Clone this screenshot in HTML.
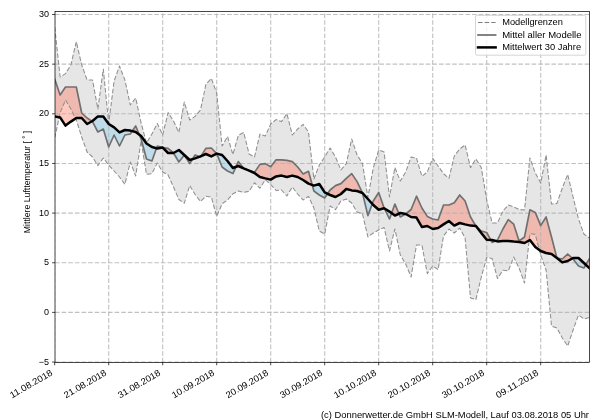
<!DOCTYPE html>
<html><head><meta charset="utf-8"><title>chart</title>
<style>
html,body{margin:0;padding:0;background:#fff;}
body{width:600px;height:420px;overflow:hidden;font-family:"Liberation Sans",sans-serif;}
svg{display:block;}
svg text{font-family:"Liberation Sans",sans-serif;fill:#000;}
</style></head><body>
<svg width="600" height="420" viewBox="0 0 600 420">
<rect x="0" y="0" width="600" height="420" fill="#ffffff"/>
<defs><clipPath id="ax"><rect x="55.00" y="11.50" width="534.50" height="350.90"/></clipPath><filter id="g" x="-5%" y="-5%" width="110%" height="110%" color-interpolation-filters="sRGB"><feColorMatrix type="matrix" values="1 0 0 0 0 0 1 0 0 0 0 0 1 0 0 0 0 0 1 0"/></filter></defs>
<g clip-path="url(#ax)">
<polygon points="54.70,27.00 60.10,77.00 65.50,73.60 70.90,65.00 76.30,41.60 81.70,65.00 87.10,80.00 92.50,80.00 97.90,109.00 103.30,69.00 108.70,123.50 114.10,81.00 119.50,66.00 124.90,80.00 130.30,105.00 135.70,98.00 141.10,123.00 146.50,143.00 151.90,134.00 157.30,123.50 162.70,135.00 168.10,112.50 173.50,121.00 178.90,132.50 184.30,102.00 189.70,120.00 195.10,116.40 200.50,110.00 205.90,84.40 211.30,78.40 216.70,93.00 222.10,146.00 227.50,136.40 232.90,154.50 238.30,135.50 243.70,132.40 249.10,154.00 254.50,157.00 259.90,134.00 265.30,136.00 270.70,124.00 276.10,119.60 281.50,121.60 286.90,113.60 292.30,135.00 297.70,129.00 303.10,124.40 308.50,132.00 313.90,179.00 319.30,165.00 324.70,157.00 330.10,148.00 335.50,157.00 340.90,170.00 346.30,163.60 351.70,139.00 357.10,155.00 362.50,163.60 367.90,197.50 373.30,168.00 378.70,150.00 384.10,152.00 389.50,197.00 394.90,167.60 400.30,181.00 405.70,172.00 411.10,157.00 416.50,158.00 421.90,176.40 427.30,172.00 432.70,158.40 438.10,166.00 443.50,173.60 448.90,178.40 454.30,156.00 459.70,149.00 465.10,145.00 470.50,167.60 475.90,159.00 481.30,167.50 486.70,200.00 492.10,223.00 497.50,223.00 502.90,211.00 508.30,205.00 513.70,207.00 519.10,209.50 524.50,210.00 529.90,158.00 535.30,173.00 540.70,183.00 546.10,155.00 551.50,204.00 556.90,203.50 562.30,188.00 567.70,174.40 573.10,197.00 578.50,219.00 583.90,234.00 589.30,238.00 589.30,317.60 583.90,319.00 578.50,315.00 573.10,330.00 567.70,346.00 562.30,338.00 556.90,328.00 551.50,326.00 546.10,270.00 540.70,255.00 535.30,234.40 529.90,233.60 524.50,283.00 519.10,268.00 513.70,257.00 508.30,271.00 502.90,270.20 497.50,278.50 492.10,258.50 486.70,257.50 481.30,277.00 475.90,299.60 470.50,298.00 465.10,238.00 459.70,228.00 454.30,233.00 448.90,229.00 443.50,236.00 438.10,269.60 432.70,266.00 427.30,273.60 421.90,245.00 416.50,245.00 411.10,277.00 405.70,264.00 400.30,255.00 394.90,229.00 389.50,251.00 384.10,227.50 378.70,230.00 373.30,233.00 367.90,237.00 362.50,214.00 357.10,212.00 351.70,203.00 346.30,199.00 340.90,201.00 335.50,209.60 330.10,206.00 324.70,234.00 319.30,231.00 313.90,208.00 308.50,196.40 303.10,200.00 297.70,194.00 292.30,187.00 286.90,196.00 281.50,190.00 276.10,190.50 270.70,184.50 265.30,179.80 259.90,188.20 254.50,182.70 249.10,191.30 243.70,192.40 238.30,191.00 232.90,193.80 227.50,200.00 222.10,203.80 216.70,216.40 211.30,197.00 205.90,196.30 200.50,201.50 195.10,194.50 189.70,185.50 184.30,203.30 178.90,199.50 173.50,187.00 168.10,175.00 162.70,172.00 157.30,163.00 151.90,173.60 146.50,174.40 141.10,141.00 135.70,176.00 130.30,162.00 124.90,184.40 119.50,177.00 114.10,171.00 108.70,165.00 103.30,158.00 97.90,165.60 92.50,157.00 87.10,152.00 81.70,137.00 76.30,120.00 70.90,109.00 65.50,100.00 60.10,113.00 54.70,138.00" fill="#808080" fill-opacity="0.2"/>
<polygon points="54.70,79.00 60.10,95.00 60.10,117.40 54.70,116.40" fill="#ff6347" fill-opacity="0.35"/>
<polygon points="60.10,95.00 65.50,87.00 65.50,125.60 60.10,117.40" fill="#ff6347" fill-opacity="0.35"/>
<polygon points="65.50,87.00 70.90,87.00 70.90,121.60 65.50,125.60" fill="#ff6347" fill-opacity="0.35"/>
<polygon points="70.90,87.00 76.30,87.00 76.30,118.00 70.90,121.60" fill="#ff6347" fill-opacity="0.35"/>
<polygon points="76.30,87.00 81.70,113.00 81.70,118.00 76.30,118.00" fill="#ff6347" fill-opacity="0.35"/>
<polygon points="81.70,113.00 87.10,118.00 87.10,124.00 81.70,118.00" fill="#ff6347" fill-opacity="0.35"/>
<polygon points="87.10,118.00 92.01,121.27 87.10,124.00" fill="#ff6347" fill-opacity="0.35"/>
<polygon points="132.25,131.11 135.70,126.00 135.70,132.00" fill="#ff6347" fill-opacity="0.35"/>
<polygon points="135.70,126.00 139.30,134.67 135.70,132.00" fill="#ff6347" fill-opacity="0.35"/>
<polygon points="156.48,148.27 157.30,146.00 157.30,148.50" fill="#ff6347" fill-opacity="0.35"/>
<polygon points="157.30,146.00 162.70,147.60 162.70,147.60 157.30,148.50" fill="#ff6347" fill-opacity="0.35"/>
<polygon points="162.70,147.60 168.10,148.40 168.10,153.00 162.70,147.60" fill="#ff6347" fill-opacity="0.35"/>
<polygon points="168.10,148.40 173.50,153.00 173.50,153.00 168.10,153.00" fill="#ff6347" fill-opacity="0.35"/>
<polygon points="192.48,159.18 195.10,155.00 195.10,158.40" fill="#ff6347" fill-opacity="0.35"/>
<polygon points="195.10,155.00 199.69,156.70 195.10,158.40" fill="#ff6347" fill-opacity="0.35"/>
<polygon points="201.02,156.17 205.90,148.40 205.90,154.00" fill="#ff6347" fill-opacity="0.35"/>
<polygon points="205.90,148.40 211.30,148.00 211.30,156.40 205.90,154.00" fill="#ff6347" fill-opacity="0.35"/>
<polygon points="211.30,148.00 216.70,153.60 216.70,153.60 211.30,156.40" fill="#ff6347" fill-opacity="0.35"/>
<polygon points="235.92,166.88 238.30,161.60 238.30,166.00" fill="#ff6347" fill-opacity="0.35"/>
<polygon points="238.30,161.60 243.70,168.40 243.70,168.40 238.30,166.00" fill="#ff6347" fill-opacity="0.35"/>
<polygon points="249.10,170.60 254.50,172.40 254.50,173.00 249.10,170.60" fill="#ff6347" fill-opacity="0.35"/>
<polygon points="254.50,172.40 259.90,164.40 259.90,177.00 254.50,173.00" fill="#ff6347" fill-opacity="0.35"/>
<polygon points="259.90,164.40 265.30,163.60 265.30,178.40 259.90,177.00" fill="#ff6347" fill-opacity="0.35"/>
<polygon points="265.30,163.60 270.70,166.70 270.70,179.60 265.30,178.40" fill="#ff6347" fill-opacity="0.35"/>
<polygon points="270.70,166.70 276.10,159.80 276.10,176.40 270.70,179.60" fill="#ff6347" fill-opacity="0.35"/>
<polygon points="276.10,159.80 281.50,159.80 281.50,175.60 276.10,176.40" fill="#ff6347" fill-opacity="0.35"/>
<polygon points="281.50,159.80 286.90,160.40 286.90,177.00 281.50,175.60" fill="#ff6347" fill-opacity="0.35"/>
<polygon points="286.90,160.40 292.30,161.60 292.30,175.60 286.90,177.00" fill="#ff6347" fill-opacity="0.35"/>
<polygon points="292.30,161.60 297.70,167.00 297.70,177.00 292.30,175.60" fill="#ff6347" fill-opacity="0.35"/>
<polygon points="297.70,167.00 303.10,174.00 303.10,180.00 297.70,177.00" fill="#ff6347" fill-opacity="0.35"/>
<polygon points="303.10,174.00 308.50,171.30 308.50,183.60 303.10,180.00" fill="#ff6347" fill-opacity="0.35"/>
<polygon points="308.50,171.30 312.25,184.99 308.50,183.60" fill="#ff6347" fill-opacity="0.35"/>
<polygon points="327.55,193.77 330.10,190.00 330.10,195.00" fill="#ff6347" fill-opacity="0.35"/>
<polygon points="330.10,190.00 335.50,185.60 335.50,197.00 330.10,195.00" fill="#ff6347" fill-opacity="0.35"/>
<polygon points="335.50,185.60 340.90,183.60 340.90,194.00 335.50,197.00" fill="#ff6347" fill-opacity="0.35"/>
<polygon points="340.90,183.60 346.30,178.40 346.30,189.00 340.90,194.00" fill="#ff6347" fill-opacity="0.35"/>
<polygon points="346.30,178.40 351.70,173.60 351.70,190.40 346.30,189.00" fill="#ff6347" fill-opacity="0.35"/>
<polygon points="351.70,173.60 357.10,181.60 357.10,191.00 351.70,190.40" fill="#ff6347" fill-opacity="0.35"/>
<polygon points="357.10,181.60 362.50,193.00 362.50,193.00 357.10,191.00" fill="#ff6347" fill-opacity="0.35"/>
<polygon points="372.25,203.83 373.30,201.00 373.30,205.00" fill="#ff6347" fill-opacity="0.35"/>
<polygon points="373.30,201.00 378.70,192.50 378.70,209.80 373.30,205.00" fill="#ff6347" fill-opacity="0.35"/>
<polygon points="378.70,192.50 384.10,208.00 384.10,208.20 378.70,209.80" fill="#ff6347" fill-opacity="0.35"/>
<polygon points="384.10,208.00 384.24,208.29 384.10,208.20" fill="#ff6347" fill-opacity="0.35"/>
<polygon points="391.60,213.16 394.90,204.00 394.90,215.60" fill="#ff6347" fill-opacity="0.35"/>
<polygon points="394.90,204.00 398.92,213.67 394.90,215.60" fill="#ff6347" fill-opacity="0.35"/>
<polygon points="405.70,214.00 411.10,209.50 411.10,217.00 405.70,214.00" fill="#ff6347" fill-opacity="0.35"/>
<polygon points="411.10,209.50 416.50,196.20 416.50,217.60 411.10,217.00" fill="#ff6347" fill-opacity="0.35"/>
<polygon points="416.50,196.20 421.90,208.00 421.90,227.00 416.50,217.60" fill="#ff6347" fill-opacity="0.35"/>
<polygon points="421.90,208.00 427.30,216.40 427.30,226.00 421.90,227.00" fill="#ff6347" fill-opacity="0.35"/>
<polygon points="427.30,216.40 432.70,219.00 432.70,229.00 427.30,226.00" fill="#ff6347" fill-opacity="0.35"/>
<polygon points="432.70,219.00 438.10,220.00 438.10,228.00 432.70,229.00" fill="#ff6347" fill-opacity="0.35"/>
<polygon points="438.10,220.00 443.50,205.00 443.50,224.40 438.10,228.00" fill="#ff6347" fill-opacity="0.35"/>
<polygon points="443.50,205.00 448.90,205.00 448.90,221.00 443.50,224.40" fill="#ff6347" fill-opacity="0.35"/>
<polygon points="448.90,205.00 454.30,202.70 454.30,225.60 448.90,221.00" fill="#ff6347" fill-opacity="0.35"/>
<polygon points="454.30,202.70 459.70,195.00 459.70,223.00 454.30,225.60" fill="#ff6347" fill-opacity="0.35"/>
<polygon points="459.70,195.00 465.10,201.00 465.10,224.40 459.70,223.00" fill="#ff6347" fill-opacity="0.35"/>
<polygon points="465.10,201.00 470.50,217.00 470.50,225.60 465.10,224.40" fill="#ff6347" fill-opacity="0.35"/>
<polygon points="470.50,217.00 475.90,226.00 475.90,226.00 470.50,225.60" fill="#ff6347" fill-opacity="0.35"/>
<polygon points="475.90,226.00 481.30,231.00 481.30,233.00 475.90,226.00" fill="#ff6347" fill-opacity="0.35"/>
<polygon points="481.30,231.00 486.70,232.50 486.70,239.80 481.30,233.00" fill="#ff6347" fill-opacity="0.35"/>
<polygon points="486.70,232.50 490.76,239.95 486.70,239.80" fill="#ff6347" fill-opacity="0.35"/>
<polygon points="495.51,240.88 497.50,240.00 497.50,241.40" fill="#ff6347" fill-opacity="0.35"/>
<polygon points="497.50,240.00 502.90,229.00 502.90,241.00 497.50,241.40" fill="#ff6347" fill-opacity="0.35"/>
<polygon points="502.90,229.00 508.30,219.60 508.30,241.00 502.90,241.00" fill="#ff6347" fill-opacity="0.35"/>
<polygon points="508.30,219.60 513.70,224.20 513.70,241.60 508.30,241.00" fill="#ff6347" fill-opacity="0.35"/>
<polygon points="513.70,224.20 519.10,241.00 519.10,242.00 513.70,241.60" fill="#ff6347" fill-opacity="0.35"/>
<polygon points="519.10,241.00 524.50,237.00 524.50,243.00 519.10,242.00" fill="#ff6347" fill-opacity="0.35"/>
<polygon points="524.50,237.00 529.90,209.80 529.90,240.00 524.50,243.00" fill="#ff6347" fill-opacity="0.35"/>
<polygon points="529.90,209.80 535.30,212.40 535.30,247.00 529.90,240.00" fill="#ff6347" fill-opacity="0.35"/>
<polygon points="535.30,212.40 540.70,225.60 540.70,251.00 535.30,247.00" fill="#ff6347" fill-opacity="0.35"/>
<polygon points="540.70,225.60 546.10,217.00 546.10,253.00 540.70,251.00" fill="#ff6347" fill-opacity="0.35"/>
<polygon points="546.10,217.00 551.50,237.00 551.50,254.00 546.10,253.00" fill="#ff6347" fill-opacity="0.35"/>
<polygon points="551.50,237.00 556.90,258.00 556.90,258.00 551.50,254.00" fill="#ff6347" fill-opacity="0.35"/>
<polygon points="556.90,258.00 562.30,259.00 562.30,262.40 556.90,258.00" fill="#ff6347" fill-opacity="0.35"/>
<polygon points="562.30,259.00 567.70,254.00 567.70,261.00 562.30,262.40" fill="#ff6347" fill-opacity="0.35"/>
<polygon points="567.70,254.00 572.43,258.38 567.70,261.00" fill="#ff6347" fill-opacity="0.35"/>
<polygon points="585.83,264.79 589.30,259.00 589.30,268.00" fill="#ff6347" fill-opacity="0.35"/>
<polygon points="92.01,121.27 92.50,121.60 92.50,121.00" fill="#96d2ee" fill-opacity="0.5"/>
<polygon points="92.50,121.60 97.90,132.00 97.90,116.40 92.50,121.00" fill="#96d2ee" fill-opacity="0.5"/>
<polygon points="97.90,132.00 103.30,129.00 103.30,116.60 97.90,116.40" fill="#96d2ee" fill-opacity="0.5"/>
<polygon points="103.30,129.00 108.70,147.00 108.70,124.00 103.30,116.60" fill="#96d2ee" fill-opacity="0.5"/>
<polygon points="108.70,147.00 114.10,135.00 114.10,127.40 108.70,124.00" fill="#96d2ee" fill-opacity="0.5"/>
<polygon points="114.10,135.00 119.50,146.00 119.50,132.40 114.10,127.40" fill="#96d2ee" fill-opacity="0.5"/>
<polygon points="119.50,146.00 124.90,135.00 124.90,130.00 119.50,132.40" fill="#96d2ee" fill-opacity="0.5"/>
<polygon points="124.90,135.00 130.30,134.00 130.30,130.60 124.90,130.00" fill="#96d2ee" fill-opacity="0.5"/>
<polygon points="130.30,134.00 132.25,131.11 130.30,130.60" fill="#96d2ee" fill-opacity="0.5"/>
<polygon points="139.30,134.67 141.10,139.00 141.10,136.00" fill="#96d2ee" fill-opacity="0.5"/>
<polygon points="141.10,139.00 146.50,159.00 146.50,143.50 141.10,136.00" fill="#96d2ee" fill-opacity="0.5"/>
<polygon points="146.50,159.00 151.90,161.00 151.90,147.00 146.50,143.50" fill="#96d2ee" fill-opacity="0.5"/>
<polygon points="151.90,161.00 156.48,148.27 151.90,147.00" fill="#96d2ee" fill-opacity="0.5"/>
<polygon points="173.50,153.00 178.90,162.00 178.90,150.00 173.50,153.00" fill="#96d2ee" fill-opacity="0.5"/>
<polygon points="178.90,162.00 184.30,155.00 184.30,155.00 178.90,150.00" fill="#96d2ee" fill-opacity="0.5"/>
<polygon points="184.30,155.00 189.70,163.60 189.70,160.00 184.30,155.00" fill="#96d2ee" fill-opacity="0.5"/>
<polygon points="189.70,163.60 192.48,159.18 189.70,160.00" fill="#96d2ee" fill-opacity="0.5"/>
<polygon points="199.69,156.70 200.50,157.00 200.50,156.40" fill="#96d2ee" fill-opacity="0.5"/>
<polygon points="200.50,157.00 201.02,156.17 200.50,156.40" fill="#96d2ee" fill-opacity="0.5"/>
<polygon points="216.70,153.60 222.10,167.00 222.10,155.00 216.70,153.60" fill="#96d2ee" fill-opacity="0.5"/>
<polygon points="222.10,167.00 227.50,171.00 227.50,161.00 222.10,155.00" fill="#96d2ee" fill-opacity="0.5"/>
<polygon points="227.50,171.00 232.90,173.60 232.90,168.00 227.50,161.00" fill="#96d2ee" fill-opacity="0.5"/>
<polygon points="232.90,173.60 235.92,166.88 232.90,168.00" fill="#96d2ee" fill-opacity="0.5"/>
<polygon points="312.25,184.99 313.90,191.00 313.90,185.60" fill="#96d2ee" fill-opacity="0.5"/>
<polygon points="313.90,191.00 319.30,195.00 319.30,184.00 313.90,185.60" fill="#96d2ee" fill-opacity="0.5"/>
<polygon points="319.30,195.00 324.70,198.00 324.70,192.40 319.30,184.00" fill="#96d2ee" fill-opacity="0.5"/>
<polygon points="324.70,198.00 327.55,193.77 324.70,192.40" fill="#96d2ee" fill-opacity="0.5"/>
<polygon points="362.50,193.00 367.90,215.60 367.90,199.00 362.50,193.00" fill="#96d2ee" fill-opacity="0.5"/>
<polygon points="367.90,215.60 372.25,203.83 367.90,199.00" fill="#96d2ee" fill-opacity="0.5"/>
<polygon points="384.24,208.29 389.50,219.00 389.50,211.60" fill="#96d2ee" fill-opacity="0.5"/>
<polygon points="389.50,219.00 391.60,213.16 389.50,211.60" fill="#96d2ee" fill-opacity="0.5"/>
<polygon points="398.92,213.67 400.30,217.00 400.30,213.00" fill="#96d2ee" fill-opacity="0.5"/>
<polygon points="400.30,217.00 405.70,214.00 405.70,214.00 400.30,213.00" fill="#96d2ee" fill-opacity="0.5"/>
<polygon points="490.76,239.95 492.10,242.40 492.10,240.00" fill="#96d2ee" fill-opacity="0.5"/>
<polygon points="492.10,242.40 495.51,240.88 492.10,240.00" fill="#96d2ee" fill-opacity="0.5"/>
<polygon points="572.43,258.38 573.10,259.00 573.10,258.00" fill="#96d2ee" fill-opacity="0.5"/>
<polygon points="573.10,259.00 578.50,266.00 578.50,258.00 573.10,258.00" fill="#96d2ee" fill-opacity="0.5"/>
<polygon points="578.50,266.00 583.90,268.00 583.90,263.00 578.50,258.00" fill="#96d2ee" fill-opacity="0.5"/>
<polygon points="583.90,268.00 585.83,264.79 583.90,263.00" fill="#96d2ee" fill-opacity="0.5"/>
<line x1="54.70" y1="362.40" x2="54.70" y2="11.50" stroke="#b0b0b0" stroke-opacity="0.8" stroke-width="1.1" stroke-dasharray="4.62 2" fill="none"/>
<line x1="108.70" y1="362.40" x2="108.70" y2="11.50" stroke="#b0b0b0" stroke-opacity="0.8" stroke-width="1.1" stroke-dasharray="4.62 2" fill="none"/>
<line x1="162.70" y1="362.40" x2="162.70" y2="11.50" stroke="#b0b0b0" stroke-opacity="0.8" stroke-width="1.1" stroke-dasharray="4.62 2" fill="none"/>
<line x1="216.70" y1="362.40" x2="216.70" y2="11.50" stroke="#b0b0b0" stroke-opacity="0.8" stroke-width="1.1" stroke-dasharray="4.62 2" fill="none"/>
<line x1="270.70" y1="362.40" x2="270.70" y2="11.50" stroke="#b0b0b0" stroke-opacity="0.8" stroke-width="1.1" stroke-dasharray="4.62 2" fill="none"/>
<line x1="324.70" y1="362.40" x2="324.70" y2="11.50" stroke="#b0b0b0" stroke-opacity="0.8" stroke-width="1.1" stroke-dasharray="4.62 2" fill="none"/>
<line x1="378.70" y1="362.40" x2="378.70" y2="11.50" stroke="#b0b0b0" stroke-opacity="0.8" stroke-width="1.1" stroke-dasharray="4.62 2" fill="none"/>
<line x1="432.70" y1="362.40" x2="432.70" y2="11.50" stroke="#b0b0b0" stroke-opacity="0.8" stroke-width="1.1" stroke-dasharray="4.62 2" fill="none"/>
<line x1="486.70" y1="362.40" x2="486.70" y2="11.50" stroke="#b0b0b0" stroke-opacity="0.8" stroke-width="1.1" stroke-dasharray="4.62 2" fill="none"/>
<line x1="540.70" y1="362.40" x2="540.70" y2="11.50" stroke="#b0b0b0" stroke-opacity="0.8" stroke-width="1.1" stroke-dasharray="4.62 2" fill="none"/>
<line x1="55.00" y1="362.05" x2="589.50" y2="362.05" stroke="#b0b0b0" stroke-opacity="0.8" stroke-width="1.1" stroke-dasharray="4.62 2" fill="none"/>
<line x1="55.00" y1="312.40" x2="589.50" y2="312.40" stroke="#b0b0b0" stroke-opacity="0.8" stroke-width="1.1" stroke-dasharray="4.62 2" fill="none"/>
<line x1="55.00" y1="262.75" x2="589.50" y2="262.75" stroke="#b0b0b0" stroke-opacity="0.8" stroke-width="1.1" stroke-dasharray="4.62 2" fill="none"/>
<line x1="55.00" y1="213.10" x2="589.50" y2="213.10" stroke="#b0b0b0" stroke-opacity="0.8" stroke-width="1.1" stroke-dasharray="4.62 2" fill="none"/>
<line x1="55.00" y1="163.45" x2="589.50" y2="163.45" stroke="#b0b0b0" stroke-opacity="0.8" stroke-width="1.1" stroke-dasharray="4.62 2" fill="none"/>
<line x1="55.00" y1="113.80" x2="589.50" y2="113.80" stroke="#b0b0b0" stroke-opacity="0.8" stroke-width="1.1" stroke-dasharray="4.62 2" fill="none"/>
<line x1="55.00" y1="64.15" x2="589.50" y2="64.15" stroke="#b0b0b0" stroke-opacity="0.8" stroke-width="1.1" stroke-dasharray="4.62 2" fill="none"/>
<line x1="55.00" y1="14.50" x2="589.50" y2="14.50" stroke="#b0b0b0" stroke-opacity="0.8" stroke-width="1.1" stroke-dasharray="4.62 2" fill="none"/>
<polyline points="54.70,27.00 60.10,77.00 65.50,73.60 70.90,65.00 76.30,41.60 81.70,65.00 87.10,80.00 92.50,80.00 97.90,109.00 103.30,69.00 108.70,123.50 114.10,81.00 119.50,66.00 124.90,80.00 130.30,105.00 135.70,98.00 141.10,123.00 146.50,143.00 151.90,134.00 157.30,123.50 162.70,135.00 168.10,112.50 173.50,121.00 178.90,132.50 184.30,102.00 189.70,120.00 195.10,116.40 200.50,110.00 205.90,84.40 211.30,78.40 216.70,93.00 222.10,146.00 227.50,136.40 232.90,154.50 238.30,135.50 243.70,132.40 249.10,154.00 254.50,157.00 259.90,134.00 265.30,136.00 270.70,124.00 276.10,119.60 281.50,121.60 286.90,113.60 292.30,135.00 297.70,129.00 303.10,124.40 308.50,132.00 313.90,179.00 319.30,165.00 324.70,157.00 330.10,148.00 335.50,157.00 340.90,170.00 346.30,163.60 351.70,139.00 357.10,155.00 362.50,163.60 367.90,197.50 373.30,168.00 378.70,150.00 384.10,152.00 389.50,197.00 394.90,167.60 400.30,181.00 405.70,172.00 411.10,157.00 416.50,158.00 421.90,176.40 427.30,172.00 432.70,158.40 438.10,166.00 443.50,173.60 448.90,178.40 454.30,156.00 459.70,149.00 465.10,145.00 470.50,167.60 475.90,159.00 481.30,167.50 486.70,200.00 492.10,223.00 497.50,223.00 502.90,211.00 508.30,205.00 513.70,207.00 519.10,209.50 524.50,210.00 529.90,158.00 535.30,173.00 540.70,183.00 546.10,155.00 551.50,204.00 556.90,203.50 562.30,188.00 567.70,174.40 573.10,197.00 578.50,219.00 583.90,234.00 589.30,238.00" stroke="#8f8f8f" stroke-width="1.05" stroke-dasharray="4.62 2" fill="none" stroke-linejoin="round"/>
<polyline points="54.70,138.00 60.10,113.00 65.50,100.00 70.90,109.00 76.30,120.00 81.70,137.00 87.10,152.00 92.50,157.00 97.90,165.60 103.30,158.00 108.70,165.00 114.10,171.00 119.50,177.00 124.90,184.40 130.30,162.00 135.70,176.00 141.10,141.00 146.50,174.40 151.90,173.60 157.30,163.00 162.70,172.00 168.10,175.00 173.50,187.00 178.90,199.50 184.30,203.30 189.70,185.50 195.10,194.50 200.50,201.50 205.90,196.30 211.30,197.00 216.70,216.40 222.10,203.80 227.50,200.00 232.90,193.80 238.30,191.00 243.70,192.40 249.10,191.30 254.50,182.70 259.90,188.20 265.30,179.80 270.70,184.50 276.10,190.50 281.50,190.00 286.90,196.00 292.30,187.00 297.70,194.00 303.10,200.00 308.50,196.40 313.90,208.00 319.30,231.00 324.70,234.00 330.10,206.00 335.50,209.60 340.90,201.00 346.30,199.00 351.70,203.00 357.10,212.00 362.50,214.00 367.90,237.00 373.30,233.00 378.70,230.00 384.10,227.50 389.50,251.00 394.90,229.00 400.30,255.00 405.70,264.00 411.10,277.00 416.50,245.00 421.90,245.00 427.30,273.60 432.70,266.00 438.10,269.60 443.50,236.00 448.90,229.00 454.30,233.00 459.70,228.00 465.10,238.00 470.50,298.00 475.90,299.60 481.30,277.00 486.70,257.50 492.10,258.50 497.50,278.50 502.90,270.20 508.30,271.00 513.70,257.00 519.10,268.00 524.50,283.00 529.90,233.60 535.30,234.40 540.70,255.00 546.10,270.00 551.50,326.00 556.90,328.00 562.30,338.00 567.70,346.00 573.10,330.00 578.50,315.00 583.90,319.00 589.30,317.60" stroke="#8f8f8f" stroke-width="1.05" stroke-dasharray="4.62 2" fill="none" stroke-linejoin="round"/>
<polyline points="54.70,79.00 60.10,95.00 65.50,87.00 70.90,87.00 76.30,87.00 81.70,113.00 87.10,118.00 92.50,121.60 97.90,132.00 103.30,129.00 108.70,147.00 114.10,135.00 119.50,146.00 124.90,135.00 130.30,134.00 135.70,126.00 141.10,139.00 146.50,159.00 151.90,161.00 157.30,146.00 162.70,147.60 168.10,148.40 173.50,153.00 178.90,162.00 184.30,155.00 189.70,163.60 195.10,155.00 200.50,157.00 205.90,148.40 211.30,148.00 216.70,153.60 222.10,167.00 227.50,171.00 232.90,173.60 238.30,161.60 243.70,168.40 249.10,170.60 254.50,172.40 259.90,164.40 265.30,163.60 270.70,166.70 276.10,159.80 281.50,159.80 286.90,160.40 292.30,161.60 297.70,167.00 303.10,174.00 308.50,171.30 313.90,191.00 319.30,195.00 324.70,198.00 330.10,190.00 335.50,185.60 340.90,183.60 346.30,178.40 351.70,173.60 357.10,181.60 362.50,193.00 367.90,215.60 373.30,201.00 378.70,192.50 384.10,208.00 389.50,219.00 394.90,204.00 400.30,217.00 405.70,214.00 411.10,209.50 416.50,196.20 421.90,208.00 427.30,216.40 432.70,219.00 438.10,220.00 443.50,205.00 448.90,205.00 454.30,202.70 459.70,195.00 465.10,201.00 470.50,217.00 475.90,226.00 481.30,231.00 486.70,232.50 492.10,242.40 497.50,240.00 502.90,229.00 508.30,219.60 513.70,224.20 519.10,241.00 524.50,237.00 529.90,209.80 535.30,212.40 540.70,225.60 546.10,217.00 551.50,237.00 556.90,258.00 562.30,259.00 567.70,254.00 573.10,259.00 578.50,266.00 583.90,268.00 589.30,259.00" stroke="#707070" stroke-width="1.67" fill="none" stroke-linejoin="round" stroke-linecap="square"/>
<polyline points="54.70,116.40 60.10,117.40 65.50,125.60 70.90,121.60 76.30,118.00 81.70,118.00 87.10,124.00 92.50,121.00 97.90,116.40 103.30,116.60 108.70,124.00 114.10,127.40 119.50,132.40 124.90,130.00 130.30,130.60 135.70,132.00 141.10,136.00 146.50,143.50 151.90,147.00 157.30,148.50 162.70,147.60 168.10,153.00 173.50,153.00 178.90,150.00 184.30,155.00 189.70,160.00 195.10,158.40 200.50,156.40 205.90,154.00 211.30,156.40 216.70,153.60 222.10,155.00 227.50,161.00 232.90,168.00 238.30,166.00 243.70,168.40 249.10,170.60 254.50,173.00 259.90,177.00 265.30,178.40 270.70,179.60 276.10,176.40 281.50,175.60 286.90,177.00 292.30,175.60 297.70,177.00 303.10,180.00 308.50,183.60 313.90,185.60 319.30,184.00 324.70,192.40 330.10,195.00 335.50,197.00 340.90,194.00 346.30,189.00 351.70,190.40 357.10,191.00 362.50,193.00 367.90,199.00 373.30,205.00 378.70,209.80 384.10,208.20 389.50,211.60 394.90,215.60 400.30,213.00 405.70,214.00 411.10,217.00 416.50,217.60 421.90,227.00 427.30,226.00 432.70,229.00 438.10,228.00 443.50,224.40 448.90,221.00 454.30,225.60 459.70,223.00 465.10,224.40 470.50,225.60 475.90,226.00 481.30,233.00 486.70,239.80 492.10,240.00 497.50,241.40 502.90,241.00 508.30,241.00 513.70,241.60 519.10,242.00 524.50,243.00 529.90,240.00 535.30,247.00 540.70,251.00 546.10,253.00 551.50,254.00 556.90,258.00 562.30,262.40 567.70,261.00 573.10,258.00 578.50,258.00 583.90,263.00 589.30,268.00" stroke="#000000" stroke-width="2.5" fill="none" stroke-linejoin="round" stroke-linecap="square"/>
</g>
<rect x="55.00" y="11.50" width="534.50" height="350.90" fill="none" stroke="#000" stroke-width="0.72"/>
<line x1="54.70" y1="362.40" x2="54.70" y2="365.30" stroke="#000" stroke-width="0.72"/>
<line x1="108.70" y1="362.40" x2="108.70" y2="365.30" stroke="#000" stroke-width="0.72"/>
<line x1="162.70" y1="362.40" x2="162.70" y2="365.30" stroke="#000" stroke-width="0.72"/>
<line x1="216.70" y1="362.40" x2="216.70" y2="365.30" stroke="#000" stroke-width="0.72"/>
<line x1="270.70" y1="362.40" x2="270.70" y2="365.30" stroke="#000" stroke-width="0.72"/>
<line x1="324.70" y1="362.40" x2="324.70" y2="365.30" stroke="#000" stroke-width="0.72"/>
<line x1="378.70" y1="362.40" x2="378.70" y2="365.30" stroke="#000" stroke-width="0.72"/>
<line x1="432.70" y1="362.40" x2="432.70" y2="365.30" stroke="#000" stroke-width="0.72"/>
<line x1="486.70" y1="362.40" x2="486.70" y2="365.30" stroke="#000" stroke-width="0.72"/>
<line x1="540.70" y1="362.40" x2="540.70" y2="365.30" stroke="#000" stroke-width="0.72"/>
<line x1="52.10" y1="362.05" x2="55.00" y2="362.05" stroke="#000" stroke-width="0.72"/>
<line x1="52.10" y1="312.40" x2="55.00" y2="312.40" stroke="#000" stroke-width="0.72"/>
<line x1="52.10" y1="262.75" x2="55.00" y2="262.75" stroke="#000" stroke-width="0.72"/>
<line x1="52.10" y1="213.10" x2="55.00" y2="213.10" stroke="#000" stroke-width="0.72"/>
<line x1="52.10" y1="163.45" x2="55.00" y2="163.45" stroke="#000" stroke-width="0.72"/>
<line x1="52.10" y1="113.80" x2="55.00" y2="113.80" stroke="#000" stroke-width="0.72"/>
<line x1="52.10" y1="64.15" x2="55.00" y2="64.15" stroke="#000" stroke-width="0.72"/>
<line x1="52.10" y1="14.50" x2="55.00" y2="14.50" stroke="#000" stroke-width="0.72"/>
<g filter="url(#g)">
<text x="49.0" y="364.55" font-size="9.00" text-anchor="end">−5</text>
<text x="49.0" y="314.90" font-size="9.00" text-anchor="end">0</text>
<text x="49.0" y="265.25" font-size="9.00" text-anchor="end">5</text>
<text x="49.0" y="215.60" font-size="9.00" text-anchor="end">10</text>
<text x="49.0" y="165.95" font-size="9.00" text-anchor="end">15</text>
<text x="49.0" y="116.30" font-size="9.00" text-anchor="end">20</text>
<text x="49.0" y="66.65" font-size="9.00" text-anchor="end">25</text>
<text x="49.0" y="17.00" font-size="9.00" text-anchor="end">30</text>
<text transform="translate(53.20,374.60) rotate(-30)" font-size="9.00" text-anchor="end" textLength="47.6" lengthAdjust="spacingAndGlyphs">11.08.2018</text>
<text transform="translate(107.20,374.60) rotate(-30)" font-size="9.00" text-anchor="end" textLength="47.6" lengthAdjust="spacingAndGlyphs">21.08.2018</text>
<text transform="translate(161.20,374.60) rotate(-30)" font-size="9.00" text-anchor="end" textLength="47.6" lengthAdjust="spacingAndGlyphs">31.08.2018</text>
<text transform="translate(215.20,374.60) rotate(-30)" font-size="9.00" text-anchor="end" textLength="47.6" lengthAdjust="spacingAndGlyphs">10.09.2018</text>
<text transform="translate(269.20,374.60) rotate(-30)" font-size="9.00" text-anchor="end" textLength="47.6" lengthAdjust="spacingAndGlyphs">20.09.2018</text>
<text transform="translate(323.20,374.60) rotate(-30)" font-size="9.00" text-anchor="end" textLength="47.6" lengthAdjust="spacingAndGlyphs">30.09.2018</text>
<text transform="translate(377.20,374.60) rotate(-30)" font-size="9.00" text-anchor="end" textLength="47.6" lengthAdjust="spacingAndGlyphs">10.10.2018</text>
<text transform="translate(431.20,374.60) rotate(-30)" font-size="9.00" text-anchor="end" textLength="47.6" lengthAdjust="spacingAndGlyphs">20.10.2018</text>
<text transform="translate(485.20,374.60) rotate(-30)" font-size="9.00" text-anchor="end" textLength="47.6" lengthAdjust="spacingAndGlyphs">30.10.2018</text>
<text transform="translate(539.20,374.60) rotate(-30)" font-size="9.00" text-anchor="end" textLength="47.6" lengthAdjust="spacingAndGlyphs">09.11.2018</text>
<text transform="translate(29.7,182) rotate(-90)" font-size="9.00" text-anchor="middle" textLength="102.4" lengthAdjust="spacingAndGlyphs">Mittlere Lufttemperatur [ ˚ ]</text>
<text x="589" y="418.2" font-size="9.00" text-anchor="end" textLength="268" lengthAdjust="spacingAndGlyphs">(c) Donnerwetter.de GmbH SLM-Modell, Lauf 03.08.2018 05 Uhr</text>
<rect x="475.5" y="15.4" width="110.3" height="39.8" rx="1.6" ry="1.6" fill="#ffffff" fill-opacity="0.8" stroke="#cccccc" stroke-width="0.83"/>
<line x1="478.0" y1="22.5" x2="495.6" y2="22.5" stroke="#808080" stroke-width="1.15" stroke-dasharray="4.62 2"/>
<line x1="478.0" y1="35.0" x2="495.6" y2="35.0" stroke="#6a6a6a" stroke-width="1.67" stroke-linecap="square"/>
<line x1="478.0" y1="47.4" x2="495.6" y2="47.4" stroke="#000" stroke-width="2.5" stroke-linecap="square"/>
<text x="502.2" y="25.00" font-size="9.00" textLength="60.7" lengthAdjust="spacingAndGlyphs">Modellgrenzen</text>
<text x="502.2" y="37.90" font-size="9.00" textLength="79.3" lengthAdjust="spacingAndGlyphs">Mittel aller Modelle</text>
<text x="502.2" y="50.40" font-size="9.00" textLength="78.9" lengthAdjust="spacingAndGlyphs">Mittelwert 30 Jahre</text>
</g>
</svg>
</body></html>
